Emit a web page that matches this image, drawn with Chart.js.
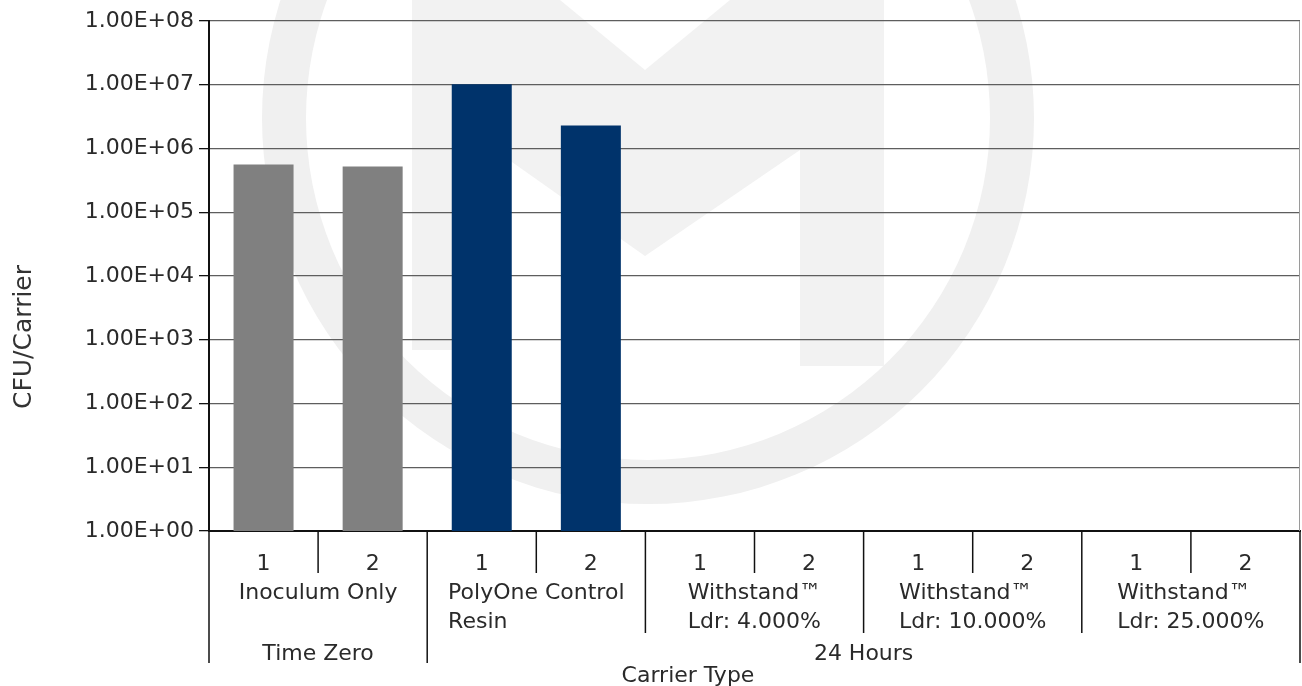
<!DOCTYPE html>
<html>
<head>
<meta charset="utf-8">
<script src="https://cdn.jsdelivr.net/npm/chart.js@4.4.1/dist/chart.umd.min.js"></script>
<style>
  body { margin: 0; background: #fff; }
  #wrap { width: 1302px; height: 686px; }
</style>
</head>
<body>
<div id="wrap"><canvas id="myChart" width="1302" height="686"></canvas></div>
<script>
// data
const barLabels = ["1", "2", "1", "2", "1", "2", "1", "2", "1", "2"];
const groupNames = [
  ["Inoculum Only"],
  ["PolyOne Control", "Resin"],
  ["Withstand™", "Ldr: 4.000%"],
  ["Withstand™", "Ldr: 10.000%"],
  ["Withstand™", "Ldr: 25.000%"]
];
const periodNames = ["Time Zero", "24 Hours"];
const groupsPerPeriod = [1, 4];
const cfuValues = [5.6e5, 5.2e5, 1.02e7, 2.3e6, null, null, null, null, null, null];
const yTickValues = [1e0, 1e1, 1e2, 1e3, 1e4, 1e5, 1e6, 1e7, 1e8];
const yTitle = "CFU/Carrier";
const xTitle = "Carrier Type";

const GRAY = "#808080";
const BLUE = "#00336b";
const barColors = barLabels.map((l, i) => (i < 2 ? GRAY : BLUE));
const FONT = "'DejaVu Sans', sans-serif";

function sci(v) {
  const e = Math.round(Math.log10(v));
  return "1.00E+" + (e < 10 ? "0" + e : e);
}

// faint logo behind the plot
const watermark = {
  id: "watermark",
  beforeDraw(chart) {
    const ctx = chart.ctx;
    ctx.save();
    ctx.fillStyle = "#fff";
    ctx.fillRect(0, 0, chart.width, chart.height);
    ctx.fillStyle = "#f0f0f0";
    ctx.beginPath();
    ctx.arc(648, 118, 386, 0, Math.PI * 2);
    ctx.arc(648, 118, 342, 0, Math.PI * 2, true);
    ctx.fill();
    ctx.fillStyle = "#f2f2f2";
    ctx.beginPath();
    ctx.moveTo(412, 0); ctx.lineTo(560, 0); ctx.lineTo(645, 70); ctx.lineTo(730, 0);
    ctx.lineTo(884, 0); ctx.lineTo(884, 366); ctx.lineTo(800, 366); ctx.lineTo(800, 150);
    ctx.lineTo(645, 256); ctx.lineTo(495, 150); ctx.lineTo(495, 350); ctx.lineTo(412, 350);
    ctx.closePath();
    ctx.fill();
    ctx.restore();
  }
};

// multi level category axis + titles
const multiAxis = {
  id: "multiAxis",
  afterDraw(chart) {
    const ctx = chart.ctx;
    const xs = chart.scales.x;
    const area = chart.chartArea;
    const b = area.bottom;
    const n = barLabels.length;
    const edge = (i) => {
      if (i <= 0) return area.left;
      if (i >= n) return area.right;
      return (xs.getPixelForTick(i - 1) + xs.getPixelForTick(i)) / 2;
    };
    ctx.save();
    // right border of plot
    ctx.strokeStyle = "#9a9a9a";
    ctx.lineWidth = 1;
    ctx.beginPath();
    ctx.moveTo(area.right - 0.5, area.top);
    ctx.lineTo(area.right - 0.5, b);
    ctx.stroke();

    ctx.strokeStyle = "#111";
    ctx.lineWidth = 1.5;
    ctx.font = "22px " + FONT;
    ctx.fillStyle = "#2a2a2a";
    ctx.textBaseline = "middle";

    // ticks between bars inside a group
    let start = 0;
    const groupEdges = [0];
    groupNames.forEach((g, gi) => {
      const size = 2;
      for (let k = 1; k < size; k++) {
        const x = edge(start + k);
        ctx.beginPath(); ctx.moveTo(x, b); ctx.lineTo(x, b + 42); ctx.stroke();
      }
      // group label, left aligned block centered on group
      const x0 = edge(start), x1 = edge(start + size);
      const w = Math.max(...g.map((t) => ctx.measureText(t).width));
      ctx.textAlign = "left";
      g.forEach((t, li) => ctx.fillText(t, (x0 + x1) / 2 - w / 2, b + 62 + li * 29));
      start += size;
      groupEdges.push(start);
    });

    // period boundaries
    const periodEdges = [0];
    let gsum = 0;
    groupsPerPeriod.forEach((c) => { gsum += c; periodEdges.push(groupEdges[gsum]); });

    groupEdges.forEach((gi) => {
      const x = edge(gi);
      const long = periodEdges.includes(gi);
      ctx.beginPath(); ctx.moveTo(x, b); ctx.lineTo(x, b + (long ? 132 : 102)); ctx.stroke();
    });

    ctx.textAlign = "center";
    periodNames.forEach((p, pi) => {
      const x0 = edge(periodEdges[pi]), x1 = edge(periodEdges[pi + 1]);
      ctx.fillText(p, (x0 + x1) / 2, b + 123);
    });

    ctx.fillText(xTitle, 688, b + 145);

    ctx.font = "25px " + FONT;
    ctx.fillStyle = "#333";
    ctx.translate(24, 337);
    ctx.rotate(-Math.PI / 2);
    ctx.fillText(yTitle, 0, 0);
    ctx.restore();
  }
};

const ctx = document.getElementById("myChart").getContext("2d");
const myChart = new Chart(ctx, {
  type: "bar",
  data: {
    labels: barLabels,
    datasets: [{
      data: cfuValues,
      backgroundColor: barColors,
      borderWidth: 0,
      barPercentage: 0.55,
      categoryPercentage: 1.0
    }]
  },
  options: {
    responsive: false,
    animation: false,
    devicePixelRatio: 1,
    layout: { padding: { top: 21, right: 2, left: 0, bottom: 0 } },
    plugins: { legend: { display: false }, tooltip: { enabled: false } },
    scales: {
      x: {
        grid: { drawOnChartArea: false, drawTicks: false },
        border: { color: "#111", width: 2 },
        ticks: { color: "#2a2a2a", font: { family: FONT, size: 22 }, padding: 20, maxRotation: 0 },
        afterFit: (s) => { s.height = 155; }
      },
      y: {
        type: "logarithmic",
        min: 1,
        max: 1e8,
        afterBuildTicks: (s) => { s.ticks = yTickValues.map((v) => ({ value: v })); },
        grid: { color: "#5e5e5e", lineWidth: 1.3, tickLength: 10, tickColor: "#111" },
        border: { color: "#111", width: 2 },
        ticks: {
          color: "#2a2a2a",
          font: { family: FONT, size: 22 },
          padding: 5,
          callback: (v) => sci(v)
        },
        afterFit: (s) => { s.width = 209; }
      }
    }
  },
  plugins: [watermark, multiAxis]
});
</script>
</body>
</html>
